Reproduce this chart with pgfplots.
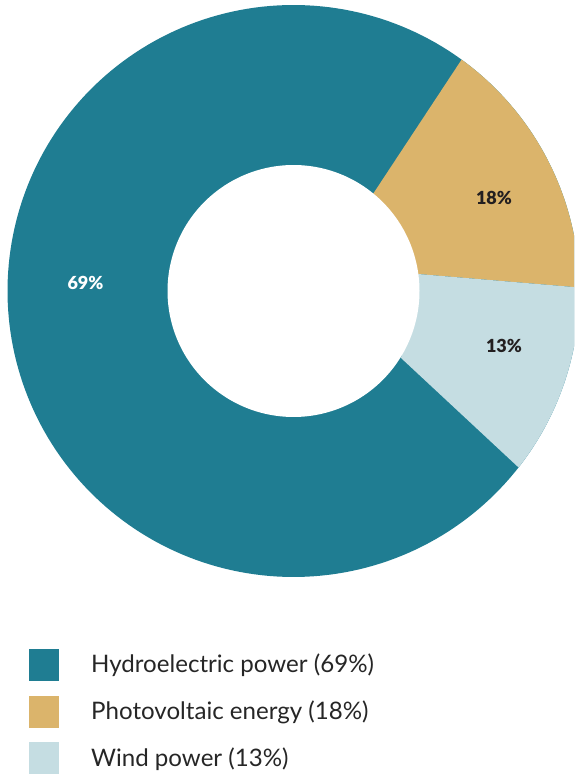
\documentclass[border=0pt]{standalone}
\usepackage{fontspec}
\setmainfont{Lato}
\newfontfamily\heavy{Lato Black}
\usepackage{pgfplots}
\pgfplotsset{compat=1.18}
\definecolor{hydro}{HTML}{1F7D92}
\definecolor{photo}{HTML}{DBB46B}
\definecolor{wind}{HTML}{C5DDE2}
\definecolor{txt}{HTML}{262626}
\definecolor{lbl}{HTML}{231F20}
\begin{document}
\begin{tikzpicture}
\begin{axis}[name=ax, width=574pt, height=774pt, scale only axis,
  xmin=0, xmax=574, ymin=0, ymax=774, hide axis, clip=true]
% outer disk (hydroelectric, 69%)
\addplot[fill=hydro, draw=none, domain=0:360, samples=240, variable=\t]
  ({293.5+286*cos(\t)},{483+286*sin(\t)}) -- cycle;
% photovoltaic (18%): outer arc from 0.7 deg to 54 deg, inner edge points
\addplot[fill=photo, draw=none, domain=0.7:54.0, samples=80, variable=\t]
  ({293.5+286*cos(\t)},{483+286*sin(\t)}) -- (axis cs:373,580) -- (axis cs:418,500) -- cycle;
% wind (13%): outer arc from -38.1 deg to 0.7 deg
\addplot[fill=wind, draw=none, domain=-38.1:0.7, samples=60, variable=\t]
  ({293.5+286*cos(\t)},{483+286*sin(\t)}) -- (axis cs:418,500) -- (axis cs:401,416) -- cycle;
% hole
\addplot[fill=white, draw=none, domain=0:360, samples=200, variable=\t]
  ({293.5+126*cos(\t)},{483+126*sin(\t)}) -- cycle;
% slice labels
\node[anchor=base, text=white, font=\heavy\fontsize{18}{18}\selectfont] at (axis cs:85.5,484) {69\%};
\node[anchor=base, text=lbl, font=\heavy\fontsize{18}{18}\selectfont] at (axis cs:494,569) {18\%};
\node[anchor=base, text=lbl, font=\heavy\fontsize{18}{18}\selectfont] at (axis cs:504,421) {13\%};
% legend
\addplot[fill=hydro, draw=none] coordinates {(29,93) (59,93) (59,125) (29,125)} -- cycle;
\addplot[fill=photo, draw=none] coordinates {(29,46) (59,46) (59,78) (29,78)} -- cycle;
\addplot[fill=wind, draw=none] coordinates {(29,0) (59,0) (59,32) (29,32)} -- cycle;
\node[anchor=base west, inner sep=0pt, text=txt, font=\fontsize{24.1}{29}\selectfont] at (axis cs:91,101) {Hydroelectric power (69\%)};
\node[anchor=base west, inner sep=0pt, text=txt, font=\fontsize{24.1}{29}\selectfont] at (axis cs:91,54.5) {Photovoltaic energy (18\%)};
\node[anchor=base west, inner sep=0pt, text=txt, font=\fontsize{24.1}{29}\selectfont] at (axis cs:91,8) {Wind power (13\%)};
\end{axis}
\pgfresetboundingbox
\path[use as bounding box] (ax.south west) rectangle (ax.north east);
\end{tikzpicture}
\end{document}
